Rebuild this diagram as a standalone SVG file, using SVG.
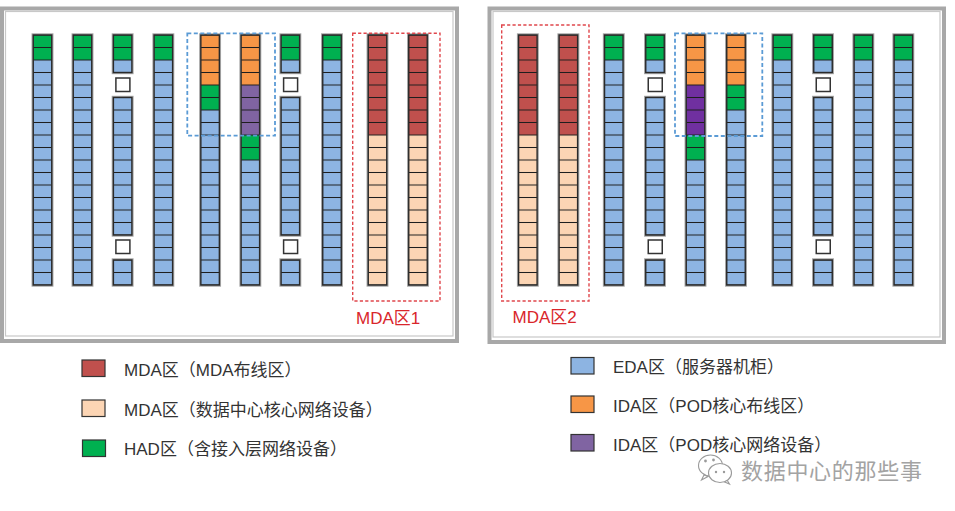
<svg xmlns="http://www.w3.org/2000/svg" xmlns:xlink="http://www.w3.org/1999/xlink" width="955" height="511" viewBox="0 0 955 511">
<style>
  .frame{fill:none;stroke:#a8a8a8;stroke-width:4}
  .inner{fill:none;stroke:#c8c8c8;stroke-width:1.2}
  .sh{fill:none;stroke:#a3a3a3;stroke-width:3.4}
  .o{fill:none;stroke:#2a2a2a;stroke-width:1.4}
  .ln{fill:url(#u)}
  .g{fill:#00b050}
  .b{fill:#8db4e2}
  .or{fill:#f79646}
  .r{fill:#c0504d}
  .pc{fill:#fcd5b4}
  .sq{fill:#fff;stroke:#333;stroke-width:1.5}
  .dblue{fill:none;stroke:#5b9bd5;stroke-width:1.8;stroke-dasharray:4 2.5}
  .dred{fill:none;stroke:#e0474c;stroke-width:1.4;stroke-dasharray:3.2 2.2}
  .lbl{font-family:"Liberation Sans","Noto Sans CJK SC",sans-serif;font-size:17px;fill:#d9262b}
  .leg{font-family:"Liberation Sans","Noto Sans CJK SC",sans-serif;font-size:17px;fill:#333}
  .key{stroke:#333;stroke-width:1.2}
  .wm{font-family:"Noto Sans CJK SC",sans-serif;font-size:22px;fill:#a3a3a3;letter-spacing:0.7px}
</style>
<defs>
  <pattern id="u" patternUnits="userSpaceOnUse" x="0" y="3.75" width="60" height="12.5">
    <rect x="0" y="5.75" width="60" height="1" fill="#1e1e1e"/>
  </pattern>
  <!-- G2 + B18 -->
  <g id="rA">
    <rect class="sh" x="0" y="35" width="18.5" height="250"/>
    <rect class="g" x="0" y="35" width="18.5" height="25"/>
    <rect class="b" x="0" y="60" width="18.5" height="225"/>
    <rect class="ln" x="0" y="35" width="18.5" height="250"/>
    <rect class="o" x="0" y="35" width="18.5" height="250"/>
  </g>
  <!-- G2 + B1, gap, B11, gap, B2 -->
  <g id="rS">
    <rect class="sh" x="0" y="35" width="18.5" height="37.5"/>
    <rect class="sh" x="0" y="97.5" width="18.5" height="137.5"/>
    <rect class="sh" x="0" y="260" width="18.5" height="25"/>
    <rect class="g" x="0" y="35" width="18.5" height="25"/>
    <rect class="b" x="0" y="60" width="18.5" height="12.5"/>
    <rect class="b" x="0" y="97.5" width="18.5" height="137.5"/>
    <rect class="b" x="0" y="260" width="18.5" height="25"/>
    <rect class="ln" x="0" y="35" width="18.5" height="37.5"/>
    <rect class="ln" x="0" y="97.5" width="18.5" height="137.5"/>
    <rect class="ln" x="0" y="260" width="18.5" height="25"/>
    <rect class="o" x="0" y="35" width="18.5" height="37.5"/>
    <rect class="o" x="0" y="97.5" width="18.5" height="137.5"/>
    <rect class="o" x="0" y="260" width="18.5" height="25"/>
    <rect class="sq" x="2.5" y="78" width="14" height="13.5"/>
    <rect class="sq" x="2.5" y="240" width="14" height="13.5"/>
  </g>
  <!-- O4 + G2 + B14 -->
  <g id="rOG">
    <rect class="sh" x="0" y="35" width="18.5" height="250"/>
    <rect class="or" x="0" y="35" width="18.5" height="50"/>
    <rect class="g" x="0" y="85" width="18.5" height="25"/>
    <rect class="b" x="0" y="110" width="18.5" height="175"/>
    <rect class="ln" x="0" y="35" width="18.5" height="250"/>
    <rect class="o" x="0" y="35" width="18.5" height="250"/>
  </g>
  <!-- O4 + P4 + G2 + B10 (purple from use fill) -->
  <g id="rOP">
    <rect class="sh" x="0" y="35" width="18.5" height="250"/>
    <rect class="or" x="0" y="35" width="18.5" height="50"/>
    <rect x="0" y="85" width="18.5" height="50"/>
    <rect class="g" x="0" y="135" width="18.5" height="25"/>
    <rect class="b" x="0" y="160" width="18.5" height="125"/>
    <rect class="ln" x="0" y="35" width="18.5" height="250"/>
    <rect class="o" x="0" y="35" width="18.5" height="250"/>
  </g>
  <!-- R8 + peach12 -->
  <g id="rM">
    <rect class="sh" x="0" y="35" width="18.5" height="250"/>
    <rect class="r" x="0" y="35" width="18.5" height="100"/>
    <rect class="pc" x="0" y="135" width="18.5" height="150"/>
    <rect class="ln" x="0" y="35" width="18.5" height="250"/>
    <rect class="o" x="0" y="35" width="18.5" height="250"/>
  </g>
</defs>

<rect width="955" height="511" fill="#fff"/>

<!-- Left panel -->
<g id="panel-left">
  <rect class="frame" x="2" y="8.5" width="455" height="332.5"/>
  <rect class="inner" x="5.5" y="11.5" width="447.5" height="324.5"/>
  <g id="L1"><use href="#rA" x="33.25"/></g>
  <g id="L2"><use href="#rA" x="73.25"/></g>
  <g id="L3"><use href="#rS" x="113.4"/></g>
  <g id="L4"><use href="#rA" x="154.1"/></g>
  <g id="L5"><use href="#rOG" x="200.85"/></g>
  <g id="L6"><use href="#rOP" x="241.1" fill="#8064a2"/></g>
  <g id="L7"><use href="#rS" x="281.1"/></g>
  <g id="L8"><use href="#rA" x="322.75"/></g>
  <g id="L9"><use href="#rM" x="368.25"/></g>
  <g id="L10"><use href="#rM" x="408.75"/></g>
  <rect id="pod-left" class="dblue" x="187.3" y="33.3" width="87.7" height="102.4"/>
  <g id="mda1">
    <rect class="dred" x="352.7" y="33.3" width="87.3" height="267.7"/>
    <text class="lbl" x="356" y="324">MDA区1</text>
  </g>
</g>

<!-- Right panel -->
<g id="panel-right">
  <rect class="frame" x="489.5" y="8.5" width="454.5" height="333.5"/>
  <rect class="inner" x="493" y="11.5" width="447" height="325.5"/>
  <g id="R1"><use href="#rM" x="518.6"/></g>
  <g id="R2"><use href="#rM" x="559.1"/></g>
  <g id="R3"><use href="#rA" x="604.55"/></g>
  <g id="R4"><use href="#rS" x="645.75"/></g>
  <g id="R5"><use href="#rOP" x="686.25" fill="#7030a0"/></g>
  <g id="R6"><use href="#rOG" x="726.75"/></g>
  <g id="R7"><use href="#rA" x="773.1"/></g>
  <g id="R8"><use href="#rS" x="813.75"/></g>
  <g id="R9"><use href="#rA" x="854.1"/></g>
  <g id="R10"><use href="#rA" x="894.1"/></g>
  <rect id="pod-right" class="dblue" x="675" y="33.3" width="87.3" height="102.7"/>
  <g id="mda2">
    <rect class="dred" x="501.7" y="25" width="87.3" height="276"/>
    <text class="lbl" x="512.5" y="323">MDA区2</text>
  </g>
</g>

<!-- Legend -->
<g id="legend">
  <g id="key-mda-cab"><rect class="key r" x="82" y="360" width="23" height="16.5"/><text class="leg" x="124" y="376">MDA区（MDA布线区）</text></g>
  <g id="key-mda-net"><rect class="key pc" x="82" y="400" width="23" height="16.5"/><text class="leg" x="124" y="415.5">MDA区（数据中心核心网络设备）</text></g>
  <g id="key-had"><rect class="key g" x="82.5" y="440" width="23" height="16.5"/><text class="leg" x="124" y="455">HAD区（含接入层网络设备）</text></g>
  <g id="key-eda"><rect class="key b" x="571" y="357.5" width="23" height="16.5"/><text class="leg" x="613" y="373.3">EDA区（服务器机柜）</text></g>
  <g id="key-ida-cab"><rect class="key or" x="571" y="396" width="23" height="16.5"/><text class="leg" x="613" y="411.7">IDA区（POD核心布线区）</text></g>
  <g id="key-ida-net"><rect class="key" fill="#8064a2" x="571" y="434.5" width="23" height="16.5"/><text class="leg" x="613" y="451">IDA区（POD核心网络设备）</text></g>
</g>

<!-- Watermark -->
<g id="watermark">
  <g fill="#fff" stroke="#9a9a9a" stroke-width="1.1">
    <path d="M704 475 L701.5 480 L708 476.5 Z"/>
    <ellipse cx="710.5" cy="465.5" rx="12" ry="10.5"/>
    <path d="M727 480 L729.5 484 L723.5 481.5 Z"/>
    <ellipse cx="720" cy="473" rx="11.5" ry="9.5"/>
  </g>
  <g fill="#9a9a9a">
    <circle cx="705.5" cy="461" r="1.4"/>
    <circle cx="713.5" cy="460" r="1.4"/>
    <circle cx="716" cy="472" r="1.2"/>
    <circle cx="724" cy="472" r="1.2"/>
  </g>
  <text class="wm" x="741" y="479">数据中心的那些事</text>
</g>
</svg>
